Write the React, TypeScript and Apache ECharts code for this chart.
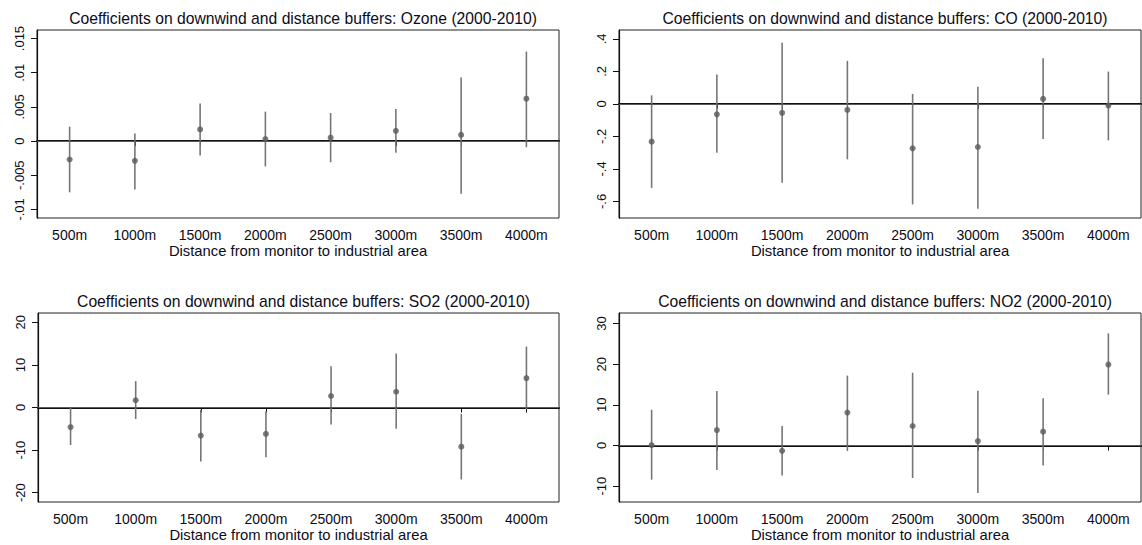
import React, { useEffect, useRef } from "react";
import * as echarts from "echarts";

// Distance buffers shared by every panel
const categories = ["500m", "1000m", "1500m", "2000m", "2500m", "3000m", "3500m", "4000m"];

// Ozone: point estimate and 95% interval
const ozoneCoef = [-0.0027, -0.0029, 0.0017, 0.0003, 0.0005, 0.0015, 0.0009, 0.0062];
const ozoneLow = [-0.0075, -0.0071, -0.0021, -0.0037, -0.0031, -0.0017, -0.0077, -0.0009];
const ozoneHigh = [0.0021, 0.0011, 0.0055, 0.0043, 0.0041, 0.0047, 0.0093, 0.0131];
const ozoneTicks = [-0.01, -0.005, 0, 0.005, 0.01, 0.015];

// CO
const coCoef = [-0.232, -0.064, -0.055, -0.037, -0.273, -0.265, 0.031, -0.01];
const coLow = [-0.517, -0.3, -0.485, -0.341, -0.618, -0.645, -0.216, -0.224];
const coHigh = [0.053, 0.181, 0.376, 0.265, 0.062, 0.105, 0.281, 0.199];
const coTicks = [-0.6, -0.4, -0.2, 0, 0.2, 0.4];

// SO2
const so2Coef = [-4.6, 1.7, -6.6, -6.2, 2.7, 3.7, -9.2, 6.9];
const so2Low = [-8.8, -2.7, -12.7, -11.7, -4.0, -5.0, -16.9, -0.4];
const so2High = [0.0, 6.2, -0.5, -0.9, 9.7, 12.7, -1.5, 14.3];
const so2Ticks = [-20, -10, 0, 10, 20];

// NO2
const no2Coef = [0.1, 3.8, -1.3, 8.1, 4.8, 1.1, 3.4, 19.9];
const no2Low = [-8.4, -6.0, -7.4, -1.3, -8.0, -11.7, -4.9, 12.5];
const no2High = [8.8, 13.4, 4.8, 17.2, 17.9, 13.5, 11.6, 27.6];
const no2Ticks = [-10, 0, 10, 20, 30];

const xTitle = "Distance from monitor to industrial area";
const titles = [
  "Coefficients on downwind and distance buffers: Ozone (2000-2010)",
  "Coefficients on downwind and distance buffers: CO (2000-2010)",
  "Coefficients on downwind and distance buffers: SO2 (2000-2010)",
  "Coefficients on downwind and distance buffers: NO2 (2000-2010)",
];

const FONT = "'Liberation Sans', Arial, sans-serif";
const INK = "#0c0c18";

// Stata-style tick labels: drop the leading zero (".015", "-.2")
const fmt = (v: number) => String(v).replace(/^(-?)0\./, "$1.");

type Panel = {
  title: string;
  coef: number[];
  low: number[];
  high: number[];
  ticks: number[];
  min: number;
  max: number;
  box: { left: number; top: number; width: number; height: number };
};

const panels: Panel[] = [
  { title: titles[0], coef: ozoneCoef, low: ozoneLow, high: ozoneHigh, ticks: ozoneTicks, min: -0.01126, max: 0.01625,
    box: { left: 37, top: 30, width: 522, height: 188 } },
  { title: titles[1], coef: coCoef, low: coLow, high: coHigh, ticks: coTicks, min: -0.702, max: 0.455,
    box: { left: 619, top: 30, width: 522, height: 188 } },
  { title: titles[2], coef: so2Coef, low: so2Low, high: so2High, ticks: so2Ticks, min: -22.2, max: 22.2,
    box: { left: 38, top: 313, width: 521, height: 189 } },
  { title: titles[3], coef: no2Coef, low: no2Low, high: no2High, ticks: no2Ticks, min: -13.9, max: 32.6,
    box: { left: 619, top: 313, width: 522, height: 189 } },
];

function buildOption() {
  const grid: any[] = [];
  const xAxis: any[] = [];
  const yAxis: any[] = [];
  const series: any[] = [];
  const title: any[] = [];

  panels.forEach((p, i) => {
    grid.push({
      left: p.box.left,
      top: p.box.top,
      width: p.box.width,
      height: p.box.height,
      show: true,
      borderColor: "#222",
      borderWidth: 1,
      containLabel: false,
    });
    title.push({
      text: p.title,
      left: p.box.left + p.box.width / 2,
      top: p.box.top - 25,
      textAlign: "center",
      textStyle: { fontSize: 15.7, fontWeight: "normal", color: INK, fontFamily: FONT },
    });
    xAxis.push({
      type: "category",
      gridIndex: i,
      data: categories,
      boundaryGap: true,
      axisLine: { show: true, lineStyle: { color: "#111", width: 2 } },
      axisTick: { show: true, alignWithLabel: true, length: 5, lineStyle: { color: "#111", width: 1 } },
      axisLabel: { interval: 0, fontSize: 14, color: INK, margin: 10, fontFamily: FONT },
      splitLine: { show: false },
      name: xTitle,
      nameLocation: "middle",
      nameGap: 25,
      nameTextStyle: { fontSize: 14.8, color: INK, fontFamily: FONT },
    });
    yAxis.push({
      type: "value",
      gridIndex: i,
      min: p.min,
      max: p.max,
      axisLine: { show: true, lineStyle: { color: "#111", width: 1.2 } },
      axisTick: { show: true, length: 6, customValues: p.ticks, lineStyle: { color: "#111", width: 1 } },
      axisLabel: {
        rotate: 90,
        customValues: p.ticks,
        formatter: (v: number) => fmt(v),
        fontSize: 13,
        color: INK,
        margin: 11,
        fontFamily: FONT,
      },
      splitLine: { show: false },
    });
    series.push({
      type: "custom",
      xAxisIndex: i,
      yAxisIndex: i,
      data: categories.map((_, k) => [k, p.low[k], p.high[k]]),
      encode: { x: 0, y: [1, 2] },
      renderItem: (_params: any, api: any) => {
        const k = api.value(0);
        const a = api.coord([k, api.value(1)]);
        const b = api.coord([k, api.value(2)]);
        return {
          type: "line",
          shape: { x1: a[0], y1: a[1], x2: b[0], y2: b[1] },
          style: { stroke: "#767676", lineWidth: 1.6 },
        };
      },
      z: 2,
    });
    series.push({
      type: "scatter",
      xAxisIndex: i,
      yAxisIndex: i,
      data: p.coef,
      symbol: "circle",
      symbolSize: 6,
      itemStyle: { color: "#595959" },
      z: 4,
      markLine: {
        silent: true,
        symbol: ["none", "none"],
        label: { show: false },
        lineStyle: { color: "#5a5a5a", width: 1.2, type: "solid" },
        data: [{ yAxis: 0 }],
        z: 3,
      },
    });
  });

  return {
    animation: false,
    backgroundColor: "#ffffff",
    textStyle: { fontFamily: FONT },
    title,
    grid,
    xAxis,
    yAxis,
    series,
  };
}

export default function App() {
  const ref = useRef<HTMLDivElement>(null);
  useEffect(() => {
    if (!ref.current) return;
    const chart = echarts.init(ref.current, undefined, { renderer: "svg" });
    chart.setOption(buildOption() as any);
    return () => chart.dispose();
  }, []);
  return (
    <div
      ref={ref}
      style={{ position: "fixed", left: 0, top: 0, width: 1142, height: 545, background: "#fff" }}
    />
  );
}
